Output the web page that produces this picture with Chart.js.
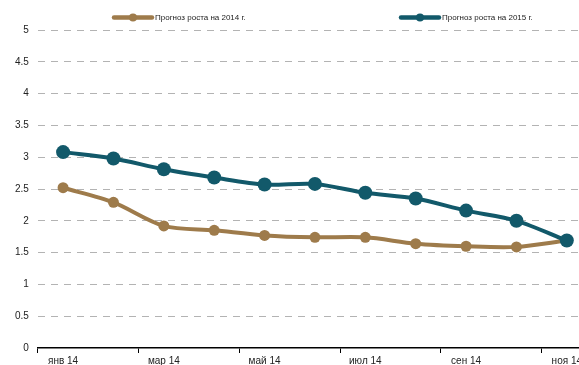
<!DOCTYPE html>
<html>
<head>
<meta charset="utf-8">
<script src="https://cdn.jsdelivr.net/npm/chart.js@4"></script>
<style>
  html, body { margin: 0; padding: 0; background: #fff; overflow: hidden; }
  #wrap { width: 579px; height: 365px; overflow: hidden; }
</style>
</head>
<body>
<div id="wrap"><canvas id="growthChart" width="599" height="369"></canvas></div>
<script>
// Months on the x axis (labels shown every second month)
const months = ['янв 14', 'фев 14', 'мар 14', 'апр 14', 'май 14', 'июн 14',
                'июл 14', 'авг 14', 'сен 14', 'окт 14', 'ноя 14'];

// Growth forecasts, %
const forecast2014 = [2.52, 2.29, 1.92, 1.85, 1.77, 1.74, 1.74, 1.64, 1.60, 1.59, 1.69];
const forecast2015 = [3.08, 2.98, 2.81, 2.68, 2.57, 2.58, 2.44, 2.35, 2.16, 2.00, 1.69];

const seriesNames = ['Прогноз роста на 2014 г.', 'Прогноз роста на 2015 г.'];
const yTicks = [0, 0.5, 1, 1.5, 2, 2.5, 3, 3.5, 4, 4.5, 5];

const brown = '#9e7b4b';
const teal = '#12596a';

// Simple legend drawn at the top: line with a dot, then the text
const lineLegend = {
  id: 'lineLegend',
  afterDraw(chart) {
    const ctx = chart.ctx;
    const spots = [114, 401];
    ctx.save();
    chart.data.datasets.forEach(function(ds, i) {
      const x = spots[i];
      const y = 17.5;
      ctx.strokeStyle = ds.borderColor;
      ctx.lineWidth = 4.5;
      ctx.lineCap = 'round';
      ctx.beginPath();
      ctx.moveTo(x, y);
      ctx.lineTo(x + 38, y);
      ctx.stroke();
      ctx.fillStyle = ds.borderColor;
      ctx.beginPath();
      ctx.arc(x + 19, y, 4, 0, Math.PI * 2);
      ctx.fill();
      ctx.fillStyle = '#222';
      ctx.font = '8px "Liberation Sans", Arial, sans-serif';
      ctx.textBaseline = 'middle';
      ctx.fillText(ds.label, x + 41, y);
    });
    ctx.restore();
  }
};

new Chart(document.getElementById('growthChart'), {
  type: 'line',
  data: {
    labels: months,
    datasets: [{
      label: seriesNames[0],
      data: forecast2014,
      borderColor: brown,
      backgroundColor: brown,
      borderWidth: 4,
      tension: 0.3,
      pointRadius: 5.5,
      pointBackgroundColor: brown,
      pointBorderWidth: 0,
      order: 1
    }, {
      label: seriesNames[1],
      data: forecast2015,
      borderColor: teal,
      backgroundColor: teal,
      borderWidth: 4,
      tension: 0.3,
      pointRadius: 7,
      pointBackgroundColor: teal,
      pointBorderWidth: 0,
      order: 0
    }]
  },
  options: {
    responsive: false,
    animation: false,
    layout: { padding: { top: 30, left: 6, right: 0, bottom: 0 } },
    plugins: {
      legend: { display: false },
      tooltip: { enabled: false }
    },
    scales: {
      y: {
        min: 0,
        max: 5,
        afterBuildTicks: function(axis) {
          axis.ticks = yTicks.map(v => ({ value: v }));
        },
        border: { display: false, dash: [7, 6] },
        grid: {
          drawTicks: false,
          color: function(c) { return c.tick.value === 0 ? 'rgba(0,0,0,0)' : '#b3b3b3'; },
          lineWidth: 1
        },
        ticks: {
          padding: 9,
          color: '#222',
          font: { size: 10, family: '"Liberation Sans", Arial, sans-serif' },
          callback: function(value) { return String(value); }
        }
      },
      x: {
        offset: true,
        border: { display: true, color: '#000', width: 1.5 },
        grid: {
          offset: true,
          drawOnChartArea: false,
          drawTicks: true,
          tickLength: 5,
          color: function(c) { return c.index % 2 === 0 ? '#000' : 'rgba(0,0,0,0)'; }
        },
        ticks: {
          autoSkip: false,
          maxRotation: 0,
          padding: 2,
          color: '#222',
          font: { size: 10, family: '"Liberation Sans", Arial, sans-serif' },
          callback: function(value, index) {
            return index % 2 === 0 ? this.getLabelForValue(value) : '';
          }
        }
      }
    }
  },
  plugins: [lineLegend]
});
</script>
</body>
</html>
